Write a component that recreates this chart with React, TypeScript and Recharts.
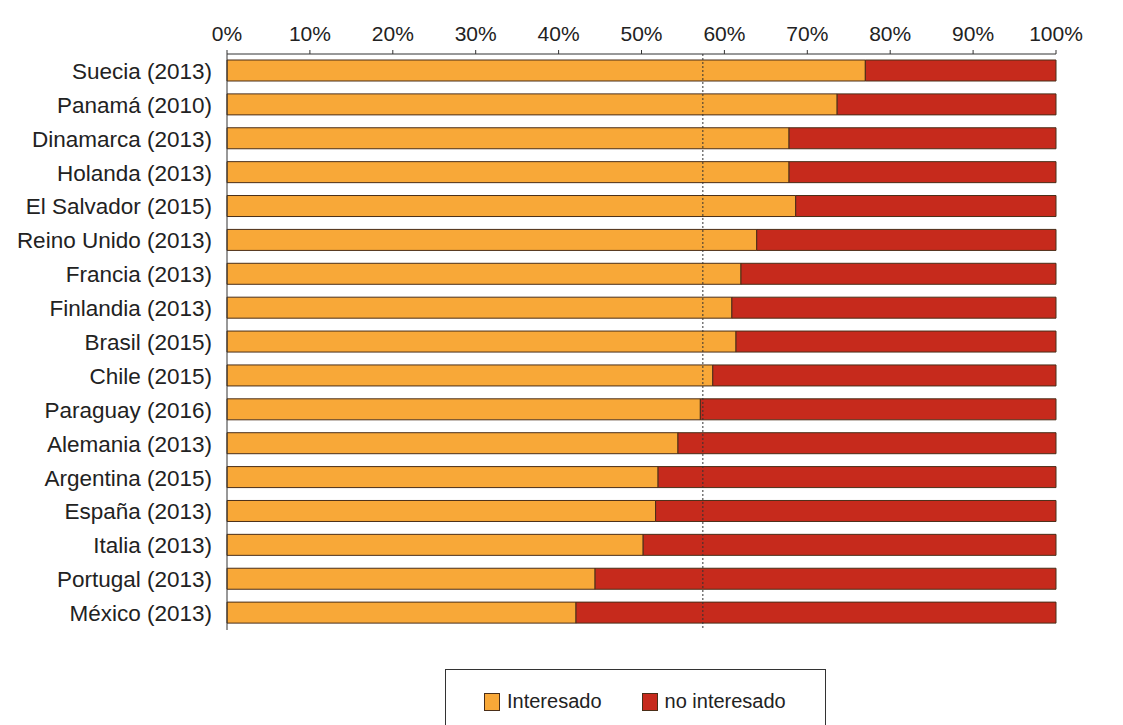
import { BarChart, Bar, XAxis, YAxis, ReferenceLine, Legend } from "recharts"

const paises = [
  "Suecia (2013)",
  "Panamá (2010)",
  "Dinamarca (2013)",
  "Holanda (2013)",
  "El Salvador (2015)",
  "Reino Unido (2013)",
  "Francia (2013)",
  "Finlandia (2013)",
  "Brasil (2015)",
  "Chile (2015)",
  "Paraguay (2016)",
  "Alemania (2013)",
  "Argentina (2015)",
  "España (2013)",
  "Italia (2013)",
  "Portugal (2013)",
  "México (2013)",
]

const interesado = [77.0, 73.6, 67.8, 67.8, 68.6, 63.9, 62.0, 60.9, 61.4, 58.6, 57.1, 54.4, 52.0, 51.7, 50.2, 44.4, 42.1]
const noInteresado = [23.0, 26.4, 32.2, 32.2, 31.4, 36.1, 38.0, 39.1, 38.6, 41.4, 42.9, 45.6, 48.0, 48.3, 49.8, 55.6, 57.9]

const porcentajes = [0, 10, 20, 30, 40, 50, 60, 70, 80, 90, 100]
const promedio = 57.4
// marcas del eje vertical entre categorías
const limites = [0, 1, 2, 3, 4, 5, 6, 7, 8, 9, 10, 11, 12, 13, 14, 15, 16, 17]

const NARANJA = "#F8A838"
const ROJO = "#C62A1C"
const BORDE = "#4a2e18"
const FUENTE = "'Liberation Sans', Arial, sans-serif"

const data = paises.map((pais, i) => ({
  pais,
  interesado: interesado[i],
  noInteresado: noInteresado[i],
}))

function Leyenda() {
  const cuadro = (color: string) => ({
    width: 16,
    height: 18,
    background: color,
    border: `1px solid ${BORDE}`,
    boxSizing: "border-box" as const,
    marginRight: 7,
  })
  return (
    <div
      style={{
        width: 381,
        height: 70,
        border: "1.5px solid #333",
        boxSizing: "border-box",
        display: "flex",
        alignItems: "flex-start",
        paddingTop: 20,
        paddingLeft: 38,
        fontFamily: FUENTE,
        fontSize: 20,
        color: "#222",
        background: "#fff",
      }}
    >
      <div style={{ display: "flex", alignItems: "center" }}>
        <span style={cuadro(NARANJA)} />
        <span>Interesado</span>
      </div>
      <div style={{ display: "flex", alignItems: "center", marginLeft: 40 }}>
        <span style={cuadro(ROJO)} />
        <span>no interesado</span>
      </div>
    </div>
  )
}

export default function App() {
  return (
    <div style={{ position: "absolute", left: 0, top: 0, width: 1123, height: 725, background: "#fff" }}>
      <BarChart
        width={1123}
        height={725}
        data={data}
        layout="vertical"
        margin={{ top: 24, right: 67, bottom: 95, left: 0 }}
        barSize={21}
      >
        <XAxis
          type="number"
          orientation="top"
          height={30}
          domain={[0, 100]}
          ticks={porcentajes}
          tickFormatter={(v) => `${v}%`}
          interval={0}
          tick={{ fontSize: 21, fill: "#222", fontFamily: FUENTE }}
          stroke="#333"
          tickSize={4}
          tickMargin={9}
        />
        <YAxis
          type="category"
          dataKey="pais"
          width={227}
          interval={0}
          tick={{ fontSize: 22.5, fill: "#222", fontFamily: FUENTE }}
          stroke="#333"
          tickLine={false}
          tickSize={6}
          tickMargin={9}
        />
        <YAxis
          yAxisId="marcas"
          type="number"
          domain={[0, 17]}
          ticks={limites}
          interval={0}
          width={0}
          tick={false}
          axisLine={false}
          tickSize={4}
          stroke="#333"
        />
        <Bar dataKey="interesado" name="Interesado" stackId="a" fill={NARANJA} stroke={BORDE} strokeWidth={1} isAnimationActive={false} />
        <Bar dataKey="noInteresado" name="no interesado" stackId="a" fill={ROJO} stroke={BORDE} strokeWidth={1} isAnimationActive={false} />
        <ReferenceLine x={promedio} stroke="#333" strokeDasharray="2 2" strokeWidth={1} />
        <Legend
          layout="horizontal"
          verticalAlign="middle"
          align="center"
          content={() => <Leyenda />}
          wrapperStyle={{ left: 445, top: 669, width: 381 }}
        />
      </BarChart>
    </div>
  )
}
